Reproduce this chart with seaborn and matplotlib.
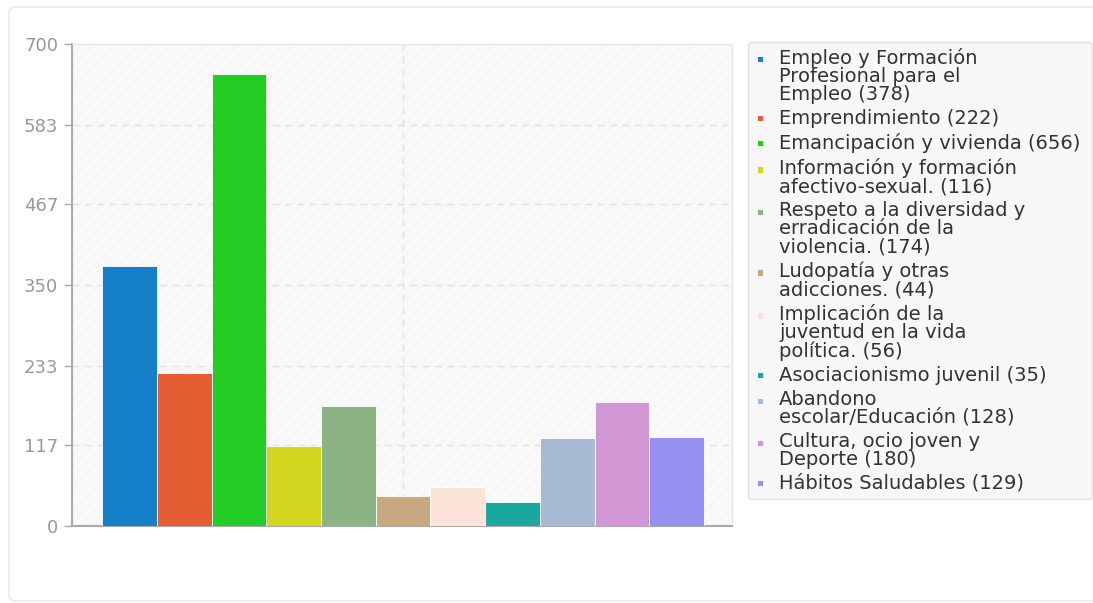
import textwrap
import matplotlib
matplotlib.use("Agg")
import matplotlib.pyplot as plt
from matplotlib.legend_handler import HandlerBase
from matplotlib.patches import Rectangle, FancyBboxPatch
import seaborn as sns
import pandas as pd

categories = [
    "Empleo y Formación Profesional para el Empleo",
    "Emprendimiento",
    "Emancipación y vivienda",
    "Información y formación afectivo-sexual.",
    "Respeto a la diversidad y erradicación de la violencia.",
    "Ludopatía y otras adicciones.",
    "Implicación de la juventud en la vida política.",
    "Asociacionismo juvenil",
    "Abandono escolar/Educación",
    "Cultura, ocio joven y Deporte",
    "Hábitos Saludables",
]
values = [378, 222, 656, 116, 174, 44, 56, 35, 128, 180, 129]
colors = ["#1580C8", "#E55E33", "#22CC22", "#D3D61E", "#8BB383", "#C8A880",
          "#FBE3D9", "#1AA79E", "#A7BAD3", "#D196D4", "#9590F2"]
yticks = [0, 117, 233, 350, 467, 583, 700]

sns.set_theme(style="white")
plt.rcParams["font.family"] = ["DejaVu Sans"]
plt.rcParams["hatch.linewidth"] = 1.0

LINESP = 0.95


class TopSquare(HandlerBase):
    """Small square marker aligned with the first line of a wrapped label."""

    def __init__(self, nlines, **kw):
        super().__init__(**kw)
        self.nlines = nlines

    def create_artists(self, legend, orig_handle, xdescent, ydescent,
                       width, height, fontsize, trans):
        s = 3.8
        yc = height / 2 - ydescent + (self.nlines - 1) * LINESP * fontsize / 2 - 1.0
        xc = width / 2 - xdescent
        r = Rectangle((xc - s / 2, yc - s / 2), s, s, facecolor=orig_handle.get_facecolor(),
                      edgecolor="none", transform=trans)
        return [r]


fig = plt.figure(figsize=(10.93, 6.03), dpi=100)
fig.patch.set_facecolor("white")

# outer card
card = FancyBboxPatch((9 / 1093, 2 / 603), 1.2, 594 / 603, boxstyle="round,pad=0,rounding_size=0.008",
                      transform=fig.transFigure, facecolor="white", edgecolor="#ebebeb", lw=1.2, zorder=-10)
fig.patches.append(card)

ax = fig.add_axes([72 / 1093, 77 / 603, 660 / 1093, 482 / 603])
ax.set_zorder(1)
ax.set_facecolor("#f7f7f7")
ax.add_patch(Rectangle((0, 0), 1, 1, transform=ax.transAxes, facecolor="#f7f7f7",
                       edgecolor="#fdfdfd", hatch="///", lw=0, zorder=0))

df = pd.DataFrame({"cat": categories, "val": values})
sns.barplot(data=df, x="cat", y="val", hue="cat", palette=colors, width=1.0,
            legend=False, ax=ax, edgecolor="#ffffff", linewidth=0.6, saturation=1, zorder=3)

ax.set_xlim(-1.05, 11.01)
ax.set_ylim(0, 700)
ax.set_xticks([5])
ax.set_xticklabels([""])
ax.set_yticks(yticks)
ax.set_yticklabels([str(t) for t in yticks])
ax.set_xlabel("")
ax.set_ylabel("")
ax.grid(True, axis="both", color="#e2e2e2", linestyle=(0, (5, 4)), linewidth=1, zorder=1)
ax.set_axisbelow(True)
ax.tick_params(axis="y", length=6, width=1, color="#aaaaaa", labelcolor="#999999",
               labelsize=13, pad=4, left=True)
ax.tick_params(axis="x", length=0)
for side in ["left", "bottom"]:
    ax.spines[side].set_color("#aaaaaa")
    ax.spines[side].set_linewidth(1.5)
for side in ["top", "right"]:
    ax.spines[side].set_color("#e6e6e6")
    ax.spines[side].set_linewidth(1)

labels = [textwrap.fill(c, 25) + f" ({v})" for c, v in zip(categories, values)]
handles = [Rectangle((0, 0), 1, 1, facecolor=col) for col in colors]
hmap = {h: TopSquare(lab.count("\n") + 1) for h, lab in zip(handles, labels)}
leg = fig.legend(handles, labels, loc="upper left",
                 bbox_to_anchor=(748 / 1093, 0.0, 344 / 1093, 1 - 42 / 603), mode="expand",
                 handler_map=hmap,
                 frameon=True, fontsize=14, handlelength=0.7, handletextpad=0.6,
                 labelspacing=0.25, borderpad=0.3, fancybox=True, borderaxespad=0)
frame = leg.get_frame()
frame.set_facecolor("#f7f7f7")
frame.set_edgecolor("#e2e2e2")
frame.set_linewidth(1)
frame.set_alpha(1)
for t in leg.get_texts():
    t.set_color("#333333")
    t.set_linespacing(LINESP)

fig.savefig("out.png", dpi=100, facecolor="white")
